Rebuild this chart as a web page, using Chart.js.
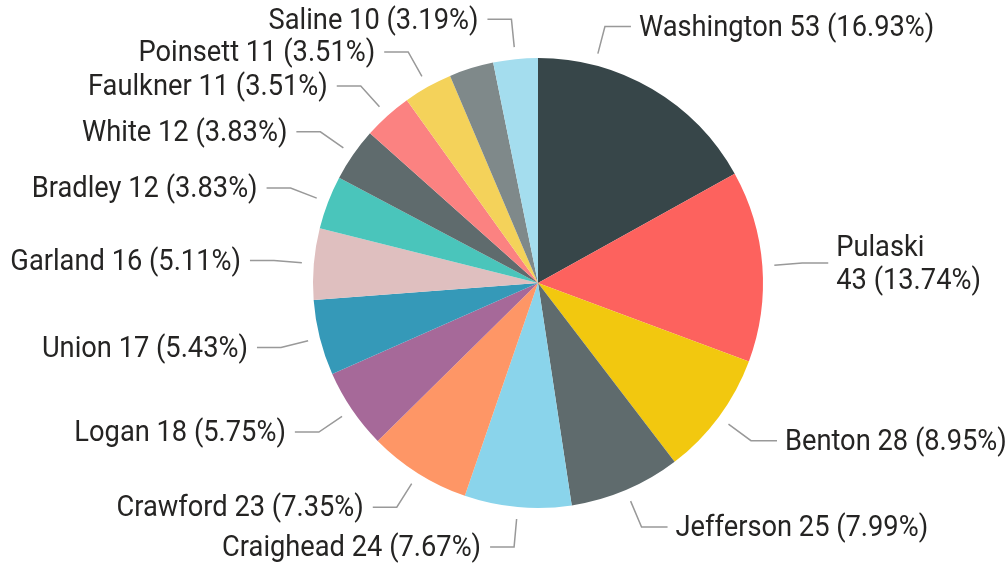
<!DOCTYPE html>
<html>
<head>
<meta charset="utf-8">
<script src="https://cdn.jsdelivr.net/npm/chart.js@4"></script>
<style>
  html, body { margin: 0; padding: 0; background: #fff; }
  #wrap { width: 1007px; height: 569px; position: relative; }
</style>
</head>
<body>
<div id="wrap"><canvas id="myChart"></canvas></div>
<script>
/* data, clockwise from 12 o'clock */
var counties = ['Washington', 'Pulaski', 'Benton', 'Jefferson', 'Craighead', 'Crawford', 'Logan', 'Union',
    'Garland', 'Bradley', 'White', 'Faulkner', 'Poinsett', '', 'Saline']
var counts = [53, 43, 28, 25, 24, 23, 18, 17, 16, 12, 12, 11, 11, 10, 10]
var percents = ['16.93', '13.74', '8.95', '7.99', '7.67', '7.35', '5.75', '5.43',
    '5.11', '3.83', '3.83', '3.51', '3.51', '3.19', '3.19']
var colors = ['#374649', '#FD625E', '#F2C80F', '#5F6B6D', '#8AD4EB', '#FE9666', '#A66999', '#3599B8',
    '#DFBFBF', '#4AC5BB', '#5F6B6D', '#FB8281', '#F4D25A', '#7F898A', '#A4DDEE']

var labelFont = '29px Roboto, "DejaVu Sans", sans-serif'
var squeeze = 0.94 // the original font (DIN) is a bit narrower than Roboto

// leader lines + outside labels
const outsideLabels = {
    id: 'outsideLabels',
    afterDatasetsDraw(chart) {
        const ctx = chart.ctx
        const arcs = chart.getDatasetMeta(0).data
        const W = chart.width
        ctx.save()
        ctx.font = labelFont
        ctx.textBaseline = 'middle'

        function text(str, x, y, align) {
            ctx.save()
            ctx.translate(x, y + 2)
            ctx.scale(squeeze, 1)
            ctx.textAlign = align
            ctx.fillText(str, 0, 0)
            ctx.restore()
        }

        arcs.forEach(function (arc, i) {
            if (!counties[i]) return
            const r = arc.outerRadius
            // the big first slice gets its anchor nearer the top, like the original
            const frac = i === 0 ? 0.24 : 0.5
            const a = arc.startAngle + (arc.endAngle - arc.startAngle) * frac
            const cos = Math.cos(a), sin = Math.sin(a)
            const sx = arc.x + cos * (r + 12), sy = arc.y + sin * (r + 12)
            const ex = arc.x + cos * (r + 40), ey = arc.y + sin * (r + 40)
            const right = cos >= 0
            const hx = ex + (right ? 26 : -24)

            ctx.strokeStyle = '#999999'
            ctx.lineWidth = 1.5
            ctx.beginPath()
            ctx.moveTo(sx, sy)
            ctx.lineTo(ex, ey)
            ctx.lineTo(hx, ey)
            ctx.stroke()

            ctx.fillStyle = '#252423'
            const tx = hx + (right ? 8 : -9)
            const align = right ? 'left' : 'right'
            const full = counties[i] + ' ' + counts[i] + ' (' + percents[i] + '%)'
            const w = ctx.measureText(full).width * squeeze
            if (right && tx + w > W) {
                text(counties[i], tx, ey - 16, align)
                text(counts[i] + ' (' + percents[i] + '%)', tx, ey + 17, align)
            } else {
                text(full, tx, ey, align)
            }
        })
        ctx.restore()
    }
}

const ctx = document.getElementById('myChart')
const data = {
    labels: counties,
    datasets: [{
        data: counts,
        backgroundColor: colors,
        borderWidth: 0
    }]
}
const config = {
    type: 'pie',
    data: data,
    options: {
        responsive: true,
        maintainAspectRatio: false,
        animation: false,
        layout: {
            padding: { top: 58, bottom: 61, left: 313, right: 244 }
        },
        plugins: {
            legend: { display: false },
            tooltip: { enabled: false }
        }
    },
    plugins: [outsideLabels]
}
let chart = new Chart(ctx, config)
</script>
</body>
</html>
